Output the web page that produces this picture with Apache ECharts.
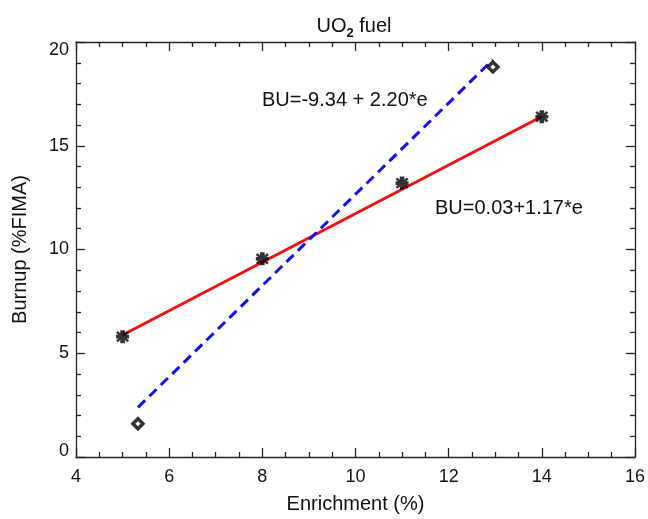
<!DOCTYPE html>
<html>
<head>
<meta charset="utf-8">
<script src="https://cdn.jsdelivr.net/npm/echarts@6/dist/echarts.min.js"></script>
<style>
  html, body { margin: 0; padding: 0; background: #fff; }
  #main { width: 648px; height: 519px; }
</style>
</head>
<body>
<div id="main"></div>
<script>
// measured points (enrichment %, burnup %FIMA)
var crossPts = [[5.0, 5.8], [8.0, 9.55], [11.0, 13.2], [14.0, 16.4]];
var diamondPts = [[5.33, 1.6], [12.95, 18.8]];
// fitted line end points
var redFit = [[5.0, 5.88], [14.0, 16.41]];
var blueFit = [[5.33, 2.39], [12.95, 19.15]];
var xTicks = [4, 6, 8, 10, 12, 14, 16];
var yTicks = [0, 5, 10, 15, 20];

var myChart = echarts.init(document.getElementById('main'));

var fontFam = 'Liberation Sans, Arial, sans-serif';
var asterisk = 'path://M-1.8,-5L1.8,-5L1.8,-2.6L3.6,-4.4L5,-3L3.2,-1.4L5,-1.4L5,1.4L3.2,1.4L5,3L3.6,4.4L1.8,2.6L1.8,5L-1.8,5L-1.8,2.6L-3.6,4.4L-5,3L-3.2,1.4L-5,1.4L-5,-1.4L-3.2,-1.4L-5,-3L-3.6,-4.4L-1.8,-2.6Z';

var lineCol = { color: '#222', width: 1.3 };

function mirrorAxis(pos, min, max, interval, split) {
    return {
        type: 'value', min: min, max: max, interval: interval, position: pos,
        axisLine: { show: true, onZero: false, lineStyle: lineCol },
        axisTick: { show: true, inside: true, length: 9, lineStyle: lineCol },
        minorTick: { show: true, splitNumber: split, length: 5, lineStyle: lineCol },
        splitLine: { show: false },
        axisLabel: { show: false }
    };
}

option = {
    animation: false,
    title: {
        text: '{a|UO}{s|2}{a| fuel}',
        left: 349,
        textAlign: 'center',
        top: 8,
        textStyle: {
            rich: {
                a: { fontSize: 20, fontFamily: fontFam, color: '#111', fontWeight: 'normal' },
                s: { fontSize: 13, fontFamily: fontFam, color: '#111', padding: [14, 0, 0, 0] }
            }
        }
    },
    grid: { left: 76, right: 13, top: 42, bottom: 60 },
    xAxis: [{
        type: 'value', min: 4, max: 16, interval: 2, position: 'bottom',
        axisLine: { show: true, onZero: false, lineStyle: lineCol },
        axisTick: { show: true, inside: true, length: 9, lineStyle: lineCol },
        minorTick: { show: true, splitNumber: 4, length: 5, lineStyle: lineCol },
        splitLine: { show: false },
        name: 'Enrichment (%)', nameLocation: 'middle', nameGap: 37,
        nameTextStyle: { fontSize: 20, fontFamily: fontFam, color: '#111' },
        axisLabel: { color: '#111', fontSize: 18, fontFamily: fontFam, margin: 11,
            formatter: function (v) { return xTicks.indexOf(v) >= 0 ? v : ''; } }
    }, mirrorAxis('top', 4, 16, 2, 4)],
    yAxis: [{
        type: 'value', min: 0, max: 20, interval: 5, position: 'left',
        axisLine: { show: true, onZero: false, lineStyle: lineCol },
        axisTick: { show: true, inside: true, length: 9, lineStyle: lineCol },
        minorTick: { show: true, splitNumber: 5, length: 5, lineStyle: lineCol },
        splitLine: { show: false },
        name: 'Burnup (%FIMA)', nameLocation: 'middle', nameGap: 46,
        nameTextStyle: { fontSize: 20, fontFamily: fontFam, color: '#111' },
        axisLabel: { color: '#111', fontSize: 18, fontFamily: fontFam, margin: 7,
            formatter: function (v) {
                if (yTicks.indexOf(v) < 0) return '';
                if (v === 20) return '{top|' + v + '}';
                if (v === 0) return '{bot|' + v + '}';
                return '' + v;
            },
            rich: {
                top: { fontSize: 18, fontFamily: fontFam, color: '#111', padding: [16, 0, 0, 0] },
                bot: { fontSize: 18, fontFamily: fontFam, color: '#111', padding: [0, 0, 12, 0] }
            }
        }
    }, mirrorAxis('right', 0, 20, 5, 5)],
    graphic: [
        { type: 'text', left: 262, top: 90, style: { text: 'BU=-9.34 + 2.20*e', fontSize: 20, fontFamily: fontFam, fill: '#111' } },
        { type: 'text', left: 435, top: 198, style: { text: 'BU=0.03+1.17*e', fontSize: 20, fontFamily: fontFam, fill: '#111' } }
    ],
    series: [{
        type: 'line',
        data: redFit,
        symbol: 'none',
        lineStyle: { color: '#f01010', width: 3 },
        z: 2
    }, {
        type: 'line',
        data: blueFit,
        symbol: 'none',
        lineStyle: { color: '#1010f0', width: 3, type: [10, 6] },
        z: 2
    }, {
        type: 'scatter',
        data: crossPts,
        symbol: asterisk,
        symbolSize: 13,
        itemStyle: { color: '#000' },
        z: 3
    }, {
        type: 'scatter',
        data: diamondPts,
        symbol: 'diamond',
        symbolSize: 10,
        itemStyle: { color: '#fff', borderColor: '#000', borderWidth: 3.5 },
        z: 3
    }]
};

myChart.setOption(option);
</script>
</body>
</html>
